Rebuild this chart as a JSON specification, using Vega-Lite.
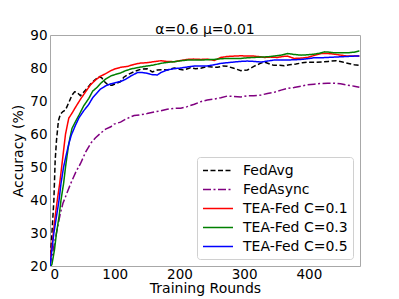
{
  "$schema": "https://vega.github.io/schema/vega-lite/v6.json",
  "autosize": "none",
  "width": 310,
  "height": 231,
  "padding": {"left": 50, "top": 35, "right": 39, "bottom": 33},
  "background": "white",
  "config": {
    "font": "DejaVu Sans",
    "view": {"stroke": "#a8a8a8", "strokeWidth": 1},
    "axis": {"domain": false, "grid": false, "ticks": false, "labelFont": "DejaVu Sans", "labelFontSize": 13.5, "labelColor": "black", "titleFont": "DejaVu Sans", "titleFontSize": 14, "titleFontWeight": "normal", "titleColor": "black"}
  },
  "title": {"text": "α=0.6 μ=0.01", "font": "DejaVu Sans", "fontSize": 14, "fontWeight": "normal", "color": "black", "offset": 0, "dy": 9},
  "data": {"values": [
    {"s":"FedAvg","r":0,"a":21},{"s":"FedAvg","r":3,"a":30},{"s":"FedAvg","r":6,"a":40},{"s":"FedAvg","r":8,"a":52},{"s":"FedAvg","r":10,"a":58},{"s":"FedAvg","r":13,"a":64},{"s":"FedAvg","r":16,"a":66},{"s":"FedAvg","r":20,"a":66.8},{"s":"FedAvg","r":24,"a":67.3},{"s":"FedAvg","r":29,"a":69.5},{"s":"FedAvg","r":34,"a":71.8},{"s":"FedAvg","r":38,"a":72.8},{"s":"FedAvg","r":42,"a":72.6},{"s":"FedAvg","r":47,"a":71.6},{"s":"FedAvg","r":55,"a":73.3},{"s":"FedAvg","r":62,"a":75},{"s":"FedAvg","r":70,"a":76.5},{"s":"FedAvg","r":76,"a":77.4},{"s":"FedAvg","r":80,"a":77},{"s":"FedAvg","r":84,"a":75.9},{"s":"FedAvg","r":90,"a":74.8},{"s":"FedAvg","r":96,"a":74.8},{"s":"FedAvg","r":102,"a":75.3},{"s":"FedAvg","r":109,"a":75.9},{"s":"FedAvg","r":114,"a":77.2},{"s":"FedAvg","r":120,"a":78},{"s":"FedAvg","r":130,"a":78.9},{"s":"FedAvg","r":140,"a":79.6},{"s":"FedAvg","r":150,"a":79.8},{"s":"FedAvg","r":158,"a":78.8},{"s":"FedAvg","r":166,"a":79.4},{"s":"FedAvg","r":175,"a":79.5},{"s":"FedAvg","r":181,"a":79.4},{"s":"FedAvg","r":192,"a":80},{"s":"FedAvg","r":200,"a":79.6},{"s":"FedAvg","r":207,"a":79.4},{"s":"FedAvg","r":217,"a":80.1},{"s":"FedAvg","r":225,"a":79.8},{"s":"FedAvg","r":233,"a":79.9},{"s":"FedAvg","r":243,"a":80.5},{"s":"FedAvg","r":250,"a":80.3},{"s":"FedAvg","r":259,"a":80.2},{"s":"FedAvg","r":267,"a":80.6},{"s":"FedAvg","r":274,"a":80.5},{"s":"FedAvg","r":284,"a":79.9},{"s":"FedAvg","r":295,"a":79.2},{"s":"FedAvg","r":305,"a":79.4},{"s":"FedAvg","r":315,"a":80.5},{"s":"FedAvg","r":325,"a":81.4},{"s":"FedAvg","r":331,"a":81.8},{"s":"FedAvg","r":340,"a":81.2},{"s":"FedAvg","r":346,"a":80.8},{"s":"FedAvg","r":355,"a":80.8},{"s":"FedAvg","r":362,"a":80.7},{"s":"FedAvg","r":370,"a":81},{"s":"FedAvg","r":380,"a":81.2},{"s":"FedAvg","r":390,"a":81.6},{"s":"FedAvg","r":398,"a":81.8},{"s":"FedAvg","r":410,"a":81.7},{"s":"FedAvg","r":420,"a":81.8},{"s":"FedAvg","r":430,"a":82},{"s":"FedAvg","r":442,"a":82.2},{"s":"FedAvg","r":452,"a":81.8},{"s":"FedAvg","r":463,"a":81.3},{"s":"FedAvg","r":470,"a":81},{"s":"FedAvg","r":478,"a":80.8},
    {"s":"FedAsync","r":0,"a":20},{"s":"FedAsync","r":8,"a":28},{"s":"FedAsync","r":16,"a":36},{"s":"FedAsync","r":20,"a":39},{"s":"FedAsync","r":26,"a":42},{"s":"FedAsync","r":32,"a":45},{"s":"FedAsync","r":40,"a":48.5},{"s":"FedAsync","r":47,"a":51},{"s":"FedAsync","r":55,"a":54.5},{"s":"FedAsync","r":63,"a":57.2},{"s":"FedAsync","r":70,"a":58.8},{"s":"FedAsync","r":78,"a":60.2},{"s":"FedAsync","r":86,"a":61.5},{"s":"FedAsync","r":94,"a":62.2},{"s":"FedAsync","r":99,"a":63},{"s":"FedAsync","r":109,"a":63.6},{"s":"FedAsync","r":117,"a":64.5},{"s":"FedAsync","r":125,"a":65.2},{"s":"FedAsync","r":130,"a":65.6},{"s":"FedAsync","r":140,"a":65.8},{"s":"FedAsync","r":150,"a":66.2},{"s":"FedAsync","r":161,"a":66.7},{"s":"FedAsync","r":171,"a":67},{"s":"FedAsync","r":181,"a":67.5},{"s":"FedAsync","r":192,"a":67.8},{"s":"FedAsync","r":202,"a":67.8},{"s":"FedAsync","r":212,"a":68.3},{"s":"FedAsync","r":223,"a":69},{"s":"FedAsync","r":233,"a":69.8},{"s":"FedAsync","r":243,"a":70.3},{"s":"FedAsync","r":254,"a":70.6},{"s":"FedAsync","r":264,"a":71},{"s":"FedAsync","r":274,"a":71.5},{"s":"FedAsync","r":284,"a":71.4},{"s":"FedAsync","r":295,"a":71.2},{"s":"FedAsync","r":305,"a":71.6},{"s":"FedAsync","r":315,"a":71.6},{"s":"FedAsync","r":326,"a":71.8},{"s":"FedAsync","r":336,"a":72.3},{"s":"FedAsync","r":346,"a":72.6},{"s":"FedAsync","r":357,"a":73.3},{"s":"FedAsync","r":367,"a":73.8},{"s":"FedAsync","r":377,"a":74.1},{"s":"FedAsync","r":388,"a":74.5},{"s":"FedAsync","r":398,"a":74.9},{"s":"FedAsync","r":408,"a":75.1},{"s":"FedAsync","r":419,"a":75.3},{"s":"FedAsync","r":429,"a":75.4},{"s":"FedAsync","r":439,"a":75.4},{"s":"FedAsync","r":449,"a":75.2},{"s":"FedAsync","r":460,"a":74.8},{"s":"FedAsync","r":470,"a":74.5},{"s":"FedAsync","r":478,"a":74.2},
    {"s":"TEA-Fed C=0.1","r":0,"a":21.5},{"s":"TEA-Fed C=0.1","r":4,"a":28},{"s":"TEA-Fed C=0.1","r":8,"a":35},{"s":"TEA-Fed C=0.1","r":12,"a":41},{"s":"TEA-Fed C=0.1","r":15,"a":45},{"s":"TEA-Fed C=0.1","r":18,"a":50},{"s":"TEA-Fed C=0.1","r":21,"a":55},{"s":"TEA-Fed C=0.1","r":24,"a":60},{"s":"TEA-Fed C=0.1","r":29,"a":64.8},{"s":"TEA-Fed C=0.1","r":34,"a":66.3},{"s":"TEA-Fed C=0.1","r":40,"a":68.3},{"s":"TEA-Fed C=0.1","r":47,"a":70.5},{"s":"TEA-Fed C=0.1","r":55,"a":72.8},{"s":"TEA-Fed C=0.1","r":63,"a":75},{"s":"TEA-Fed C=0.1","r":70,"a":76.3},{"s":"TEA-Fed C=0.1","r":78,"a":77.5},{"s":"TEA-Fed C=0.1","r":88,"a":78.5},{"s":"TEA-Fed C=0.1","r":94,"a":79.2},{"s":"TEA-Fed C=0.1","r":100,"a":79.7},{"s":"TEA-Fed C=0.1","r":109,"a":80.2},{"s":"TEA-Fed C=0.1","r":120,"a":80.5},{"s":"TEA-Fed C=0.1","r":130,"a":81.1},{"s":"TEA-Fed C=0.1","r":140,"a":81.5},{"s":"TEA-Fed C=0.1","r":150,"a":81.6},{"s":"TEA-Fed C=0.1","r":160,"a":81.9},{"s":"TEA-Fed C=0.1","r":171,"a":82.2},{"s":"TEA-Fed C=0.1","r":180,"a":82},{"s":"TEA-Fed C=0.1","r":192,"a":81.9},{"s":"TEA-Fed C=0.1","r":200,"a":82.2},{"s":"TEA-Fed C=0.1","r":212,"a":82.6},{"s":"TEA-Fed C=0.1","r":222,"a":82.7},{"s":"TEA-Fed C=0.1","r":233,"a":82.6},{"s":"TEA-Fed C=0.1","r":243,"a":82.7},{"s":"TEA-Fed C=0.1","r":254,"a":82.3},{"s":"TEA-Fed C=0.1","r":264,"a":83.2},{"s":"TEA-Fed C=0.1","r":274,"a":83.5},{"s":"TEA-Fed C=0.1","r":284,"a":83.6},{"s":"TEA-Fed C=0.1","r":295,"a":83.7},{"s":"TEA-Fed C=0.1","r":305,"a":83.6},{"s":"TEA-Fed C=0.1","r":315,"a":83.6},{"s":"TEA-Fed C=0.1","r":325,"a":83.4},{"s":"TEA-Fed C=0.1","r":331,"a":83.2},{"s":"TEA-Fed C=0.1","r":341,"a":83.3},{"s":"TEA-Fed C=0.1","r":351,"a":83.2},{"s":"TEA-Fed C=0.1","r":360,"a":83.5},{"s":"TEA-Fed C=0.1","r":367,"a":83.6},{"s":"TEA-Fed C=0.1","r":377,"a":82.9},{"s":"TEA-Fed C=0.1","r":388,"a":83},{"s":"TEA-Fed C=0.1","r":398,"a":83.2},{"s":"TEA-Fed C=0.1","r":408,"a":83.8},{"s":"TEA-Fed C=0.1","r":419,"a":84.4},{"s":"TEA-Fed C=0.1","r":429,"a":84.4},{"s":"TEA-Fed C=0.1","r":439,"a":84.2},{"s":"TEA-Fed C=0.1","r":449,"a":83.9},{"s":"TEA-Fed C=0.1","r":460,"a":83.6},{"s":"TEA-Fed C=0.1","r":470,"a":83.6},{"s":"TEA-Fed C=0.1","r":478,"a":83.6},
    {"s":"TEA-Fed C=0.3","r":0,"a":19.5},{"s":"TEA-Fed C=0.3","r":3,"a":20.5},{"s":"TEA-Fed C=0.3","r":7,"a":25},{"s":"TEA-Fed C=0.3","r":10,"a":30},{"s":"TEA-Fed C=0.3","r":14,"a":35},{"s":"TEA-Fed C=0.3","r":17,"a":40},{"s":"TEA-Fed C=0.3","r":21,"a":45},{"s":"TEA-Fed C=0.3","r":24,"a":50},{"s":"TEA-Fed C=0.3","r":28,"a":55.7},{"s":"TEA-Fed C=0.3","r":31,"a":59},{"s":"TEA-Fed C=0.3","r":34,"a":61.7},{"s":"TEA-Fed C=0.3","r":40,"a":64},{"s":"TEA-Fed C=0.3","r":45,"a":65.8},{"s":"TEA-Fed C=0.3","r":52,"a":68.5},{"s":"TEA-Fed C=0.3","r":60,"a":70.8},{"s":"TEA-Fed C=0.3","r":66,"a":73},{"s":"TEA-Fed C=0.3","r":72,"a":74},{"s":"TEA-Fed C=0.3","r":78,"a":75.3},{"s":"TEA-Fed C=0.3","r":85,"a":76.5},{"s":"TEA-Fed C=0.3","r":94,"a":77.6},{"s":"TEA-Fed C=0.3","r":102,"a":78.1},{"s":"TEA-Fed C=0.3","r":109,"a":78.5},{"s":"TEA-Fed C=0.3","r":117,"a":79.2},{"s":"TEA-Fed C=0.3","r":125,"a":79.7},{"s":"TEA-Fed C=0.3","r":135,"a":80.1},{"s":"TEA-Fed C=0.3","r":150,"a":80.6},{"s":"TEA-Fed C=0.3","r":160,"a":80.9},{"s":"TEA-Fed C=0.3","r":171,"a":81.4},{"s":"TEA-Fed C=0.3","r":181,"a":81.7},{"s":"TEA-Fed C=0.3","r":192,"a":81.9},{"s":"TEA-Fed C=0.3","r":202,"a":82.2},{"s":"TEA-Fed C=0.3","r":212,"a":82.4},{"s":"TEA-Fed C=0.3","r":223,"a":82.4},{"s":"TEA-Fed C=0.3","r":233,"a":82.4},{"s":"TEA-Fed C=0.3","r":243,"a":82.5},{"s":"TEA-Fed C=0.3","r":254,"a":82.6},{"s":"TEA-Fed C=0.3","r":264,"a":82.8},{"s":"TEA-Fed C=0.3","r":274,"a":82.9},{"s":"TEA-Fed C=0.3","r":284,"a":82.9},{"s":"TEA-Fed C=0.3","r":295,"a":82.9},{"s":"TEA-Fed C=0.3","r":305,"a":83.1},{"s":"TEA-Fed C=0.3","r":315,"a":83.2},{"s":"TEA-Fed C=0.3","r":326,"a":83.3},{"s":"TEA-Fed C=0.3","r":336,"a":83.4},{"s":"TEA-Fed C=0.3","r":346,"a":83.6},{"s":"TEA-Fed C=0.3","r":357,"a":83.9},{"s":"TEA-Fed C=0.3","r":367,"a":84.4},{"s":"TEA-Fed C=0.3","r":377,"a":84.1},{"s":"TEA-Fed C=0.3","r":388,"a":83.9},{"s":"TEA-Fed C=0.3","r":398,"a":84},{"s":"TEA-Fed C=0.3","r":408,"a":84.2},{"s":"TEA-Fed C=0.3","r":417,"a":84.5},{"s":"TEA-Fed C=0.3","r":424,"a":84.9},{"s":"TEA-Fed C=0.3","r":432,"a":84.8},{"s":"TEA-Fed C=0.3","r":439,"a":84.6},{"s":"TEA-Fed C=0.3","r":449,"a":84.6},{"s":"TEA-Fed C=0.3","r":460,"a":84.6},{"s":"TEA-Fed C=0.3","r":470,"a":84.8},{"s":"TEA-Fed C=0.3","r":478,"a":85.2},
    {"s":"TEA-Fed C=0.5","r":0,"a":20},{"s":"TEA-Fed C=0.5","r":3,"a":25},{"s":"TEA-Fed C=0.5","r":6,"a":30},{"s":"TEA-Fed C=0.5","r":10,"a":35},{"s":"TEA-Fed C=0.5","r":14,"a":40},{"s":"TEA-Fed C=0.5","r":17,"a":45},{"s":"TEA-Fed C=0.5","r":21,"a":50},{"s":"TEA-Fed C=0.5","r":25,"a":53.6},{"s":"TEA-Fed C=0.5","r":29,"a":57},{"s":"TEA-Fed C=0.5","r":33,"a":59.7},{"s":"TEA-Fed C=0.5","r":39,"a":62.5},{"s":"TEA-Fed C=0.5","r":45,"a":65},{"s":"TEA-Fed C=0.5","r":52,"a":67},{"s":"TEA-Fed C=0.5","r":60,"a":69},{"s":"TEA-Fed C=0.5","r":66,"a":71},{"s":"TEA-Fed C=0.5","r":72,"a":72.3},{"s":"TEA-Fed C=0.5","r":78,"a":73.6},{"s":"TEA-Fed C=0.5","r":86,"a":74.6},{"s":"TEA-Fed C=0.5","r":94,"a":75.2},{"s":"TEA-Fed C=0.5","r":102,"a":75.6},{"s":"TEA-Fed C=0.5","r":109,"a":75.9},{"s":"TEA-Fed C=0.5","r":117,"a":76.6},{"s":"TEA-Fed C=0.5","r":125,"a":77.6},{"s":"TEA-Fed C=0.5","r":135,"a":78.6},{"s":"TEA-Fed C=0.5","r":143,"a":78.6},{"s":"TEA-Fed C=0.5","r":150,"a":78.4},{"s":"TEA-Fed C=0.5","r":157,"a":78},{"s":"TEA-Fed C=0.5","r":166,"a":77.9},{"s":"TEA-Fed C=0.5","r":171,"a":78.6},{"s":"TEA-Fed C=0.5","r":181,"a":79.4},{"s":"TEA-Fed C=0.5","r":192,"a":79.8},{"s":"TEA-Fed C=0.5","r":202,"a":80},{"s":"TEA-Fed C=0.5","r":212,"a":80.3},{"s":"TEA-Fed C=0.5","r":223,"a":80.6},{"s":"TEA-Fed C=0.5","r":233,"a":80.6},{"s":"TEA-Fed C=0.5","r":243,"a":80.6},{"s":"TEA-Fed C=0.5","r":254,"a":81},{"s":"TEA-Fed C=0.5","r":264,"a":81.4},{"s":"TEA-Fed C=0.5","r":274,"a":81.6},{"s":"TEA-Fed C=0.5","r":284,"a":81.8},{"s":"TEA-Fed C=0.5","r":295,"a":82},{"s":"TEA-Fed C=0.5","r":305,"a":82.1},{"s":"TEA-Fed C=0.5","r":315,"a":82},{"s":"TEA-Fed C=0.5","r":326,"a":81.8},{"s":"TEA-Fed C=0.5","r":336,"a":82.1},{"s":"TEA-Fed C=0.5","r":346,"a":82.4},{"s":"TEA-Fed C=0.5","r":357,"a":82.4},{"s":"TEA-Fed C=0.5","r":367,"a":82.4},{"s":"TEA-Fed C=0.5","r":377,"a":82.5},{"s":"TEA-Fed C=0.5","r":388,"a":82.6},{"s":"TEA-Fed C=0.5","r":398,"a":82.8},{"s":"TEA-Fed C=0.5","r":408,"a":83.1},{"s":"TEA-Fed C=0.5","r":419,"a":83.1},{"s":"TEA-Fed C=0.5","r":429,"a":83.2},{"s":"TEA-Fed C=0.5","r":439,"a":83.3},{"s":"TEA-Fed C=0.5","r":449,"a":83.4},{"s":"TEA-Fed C=0.5","r":460,"a":83.5},{"s":"TEA-Fed C=0.5","r":470,"a":83.6},{"s":"TEA-Fed C=0.5","r":478,"a":83.6}
  ]},
  "mark": {"type": "line", "strokeWidth": 1.5, "clip": true},
  "encoding": {
    "x": {"field": "r", "type": "quantitative", "title": "Training Rounds",
      "scale": {"domain": [0, 479], "nice": false, "zero": false},
      "axis": {"values": [0, 100, 200, 300, 400], "labelPadding": 1, "titlePadding": 1}},
    "y": {"field": "a", "type": "quantitative", "title": "Accuracy (%)",
      "scale": {"domain": [20, 90], "nice": false, "zero": false},
      "axis": {"values": [20, 30, 40, 50, 60, 70, 80, 90], "labelPadding": 3, "titlePadding": 4}},
    "color": {"field": "s", "type": "nominal",
      "scale": {"domain": ["FedAvg", "FedAsync", "TEA-Fed C=0.1", "TEA-Fed C=0.3", "TEA-Fed C=0.5"], "range": ["#000000", "#800080", "#ff0000", "#008000", "#0000ff"]},
      "legend": {"title": null, "orient": "bottom-right", "offset": 7, "symbolType": "M-1,0H3", "symbolSize": 225, "symbolStrokeWidth": 1.5, "labelFontSize": 14, "labelFont": "DejaVu Sans", "labelColor": "black", "labelOffset": 24, "padding": 5, "rowPadding": 3, "strokeColor": "#d0d0d0", "fillColor": "white", "cornerRadius": 3}},
    "strokeDash": {"field": "s", "type": "nominal",
      "scale": {"domain": ["FedAvg", "FedAsync", "TEA-Fed C=0.1", "TEA-Fed C=0.3", "TEA-Fed C=0.5"], "range": [[5, 2.5], [8, 2.5, 2, 2.5], [1, 0], [1, 0], [1, 0]]},
      "legend": {"title": null, "orient": "bottom-right", "offset": 7, "symbolType": "M-1,0H3", "symbolSize": 225, "symbolStrokeWidth": 1.5, "labelFontSize": 14, "labelFont": "DejaVu Sans", "labelColor": "black", "labelOffset": 24, "padding": 5, "rowPadding": 3, "strokeColor": "#d0d0d0", "fillColor": "white", "cornerRadius": 3}},
    "order": {"field": "r", "type": "quantitative"}
  }
}
